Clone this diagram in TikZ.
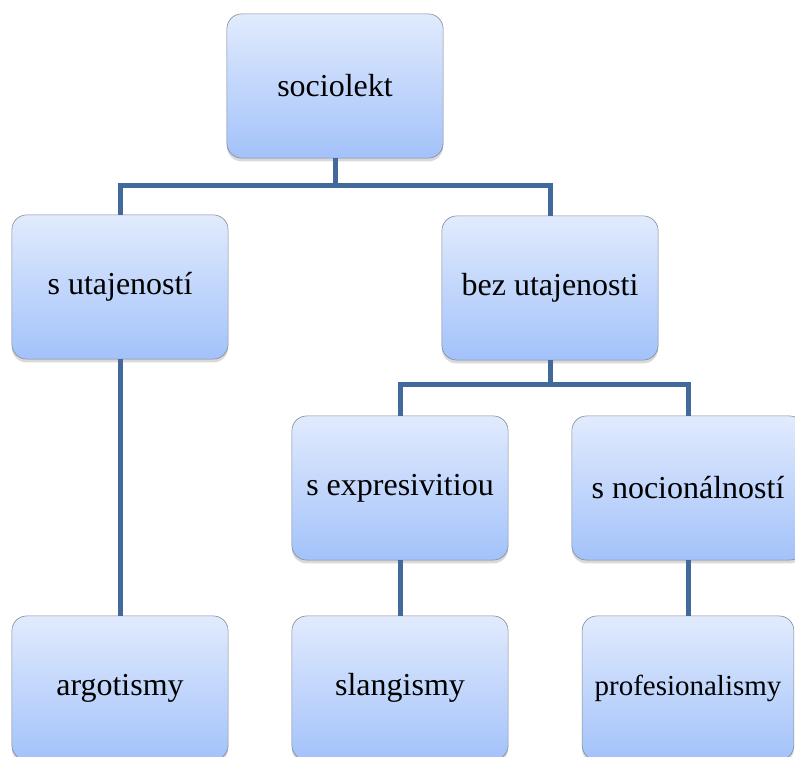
\documentclass[tikz,border=0pt]{standalone}
\usepackage{fontspec}
\setmainfont{Liberation Serif}
\usepackage{graphicx}
\usepackage{tikz}
\usetikzlibrary{shadows}
\definecolor{boxtop}{RGB}{225,235,253}
\definecolor{boxbottom}{RGB}{163,194,250}
\definecolor{boxline}{RGB}{128,136,150}
\definecolor{linkblue}{RGB}{65,105,155}

\begin{document}
\begin{tikzpicture}[x=0.68pt, y=0.68pt, text=black,
    box/.style={draw=boxline, thin, rounded corners=10pt, align=center,
      top color=boxtop, bottom color=boxbottom,
      minimum width=147pt, minimum height=98pt, inner sep=2pt,
      drop shadow={opacity=0.3, shadow xshift=0pt, shadow yshift=-2.3pt},
      font=\fontsize{21.75}{26}\selectfont},
    link/.style={draw=linkblue, line width=3.4pt}]
\useasboundingbox (0,0) rectangle (795,-756);
\clip (0,0) rectangle (795,-756);

	\path (335,-86) node (soc) [box] {sociolekt};

\path (soc)+(-215,-201) node (sutaj) [box] {s utajeností};
\path (soc)+(215,-202) node (bezutaj) [box] {bez utajenosti};

\path (bezutaj)+(-150,-200) node (sexpr) [box] {s expresivitiou};
\path (bezutaj)+(138,-200) node (snoc) [box, minimum width=158pt]
    {s nocionálností};

\path (sutaj)+(0,-401) node (argot) [box] {argotismy};
\path (sexpr)+(0,-200) node (slang) [box] {slangismy};
\path (snoc)+(0,-200) node (prof) [box, minimum width=144pt]
    {\scalebox{0.906}{profesionalismy}};

% joints of the tree
\path (soc.south)+(0,-27) coordinate (j1);
\path (bezutaj.south)+(0,-24) coordinate (j2);

\draw[link] (soc.south) -- (j1) -| (sutaj.north);
\draw[link] (j1) -| (bezutaj.north);
\draw[link] (bezutaj.south) -- (j2) -| (sexpr.north);
\draw[link] (j2) -| (snoc.north);

\draw[link] (sutaj.south) -- (argot.north);
\draw[link] (sexpr.south) -- (slang.north);
\draw[link] (snoc.south) -- (prof.north);

	\end{tikzpicture}
\end{document}
